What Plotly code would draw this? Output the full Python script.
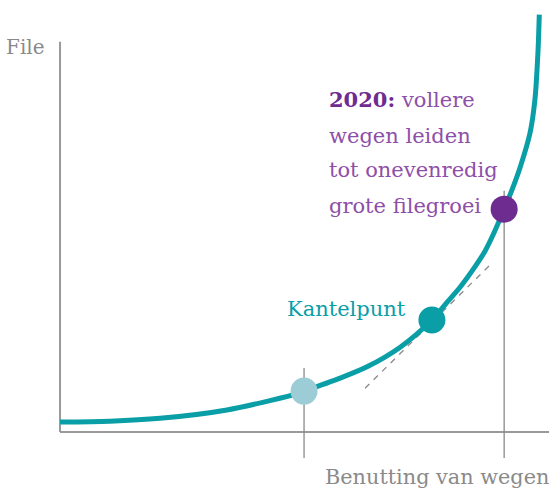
import plotly.graph_objects as go

# Curve: traffic jams (File) vs road usage (Benutting van wegen)
usage = [0, 10.2, 20.5, 34.2, 47.7, 50.0, 57.4, 62.9, 69.7, 76.2, 79.5, 82.0, 85.0, 87.1, 88.9, 91.0,
         92.6, 94.3, 96.3, 97.3, 97.95, 98.2]
jams = [2.4, 2.6, 3.3, 5.3, 8.9, 9.8, 12.9, 15.6, 20.3, 26.8, 31.3, 34.7, 39.5, 43.3, 47.6, 53.3,
        57.9, 63.4, 71.5, 79.4, 91.4, 99.8]

# Highlighted points
pt_x = [50.0, 76.2, 91.0]
pt_y = [9.8, 26.8, 53.3]
pt_colors = ["#9ccdd6", "#0a9ea7", "#6e2b90"]

# Tangent line at tipping point
tan_x = [62.5, 88.5]
tan_y = [10.5, 40.4]

# Guide lines (vertical) from points down past axis
guide_light_y = [15.3, -6.2]
guide_purple_y = [57.7, -6.2]

# Axes extents
yaxis_top = 93.3
xaxis_right = 100.2

TEAL = "#0a9ea7"
PURPLE_DARK = "#6e2b90"
PURPLE = "#8e4fa8"
GRAY = "#9a9a9a"
FONT = "DejaVu Serif"

fig = go.Figure()

# axes lines
fig.add_trace(go.Scatter(x=[0, 0], y=[yaxis_top, 0], mode="lines",
                         line=dict(color=GRAY, width=2), hoverinfo="skip"))
fig.add_trace(go.Scatter(x=[0, xaxis_right], y=[0, 0], mode="lines",
                         line=dict(color=GRAY, width=2), hoverinfo="skip"))
# guide lines
fig.add_trace(go.Scatter(x=[pt_x[0], pt_x[0]], y=guide_light_y, mode="lines",
                         line=dict(color="#8a8a8a", width=1.3), hoverinfo="skip"))
fig.add_trace(go.Scatter(x=[pt_x[2], pt_x[2]], y=guide_purple_y, mode="lines",
                         line=dict(color="#8a8a8a", width=1.3), hoverinfo="skip"))
# tangent
fig.add_trace(go.Scatter(x=tan_x, y=tan_y, mode="lines",
                         line=dict(color="#8a8a8a", width=1.3, dash="6px,6px"), hoverinfo="skip"))
# curve
fig.add_trace(go.Scatter(x=usage, y=jams, mode="lines", line_shape="spline",
                         line=dict(color=TEAL, width=5, smoothing=0.8), hoverinfo="skip"))
# points
fig.add_trace(go.Scatter(x=pt_x, y=pt_y, mode="markers",
                         marker=dict(color=pt_colors, size=27, line=dict(width=0)),
                         hoverinfo="skip"))

ann = []
ann.append(dict(x=-2.6, y=92, text="File", xanchor="right", yanchor="middle",
                font=dict(family=FONT, size=20, color="#8a8a8a")))
ann.append(dict(x=100.6, y=-10.8, text="Benutting van wegen", xanchor="right", yanchor="middle",
                font=dict(family=FONT, size=20.8, color="#8a8a8a")))
ann.append(dict(x=71.3, y=29.4, text="Kantelpunt", xanchor="right", yanchor="middle",
                font=dict(family=FONT, size=21, color=TEAL)))
lines = [f"<b><span style='color:{PURPLE_DARK}'>2020:</span></b> vollere",
         "wegen leiden", "tot onevenredig", "grote filegroei"]
line_y = [79.4, 70.8, 62.7, 54.1]
for t, yy in zip(lines, line_y):
    ann.append(dict(x=54.7, y=yy, text=t, xanchor="left", yanchor="middle",
                    font=dict(family=FONT, size=21, color=PURPLE)))
for a in ann:
    a.update(showarrow=False, xref="x", yref="y")

fig.update_layout(
    width=551, height=489,
    margin=dict(l=0, r=0, t=0, b=0),
    paper_bgcolor="white", plot_bgcolor="white",
    showlegend=False,
    xaxis=dict(range=[-12.3, 100.6], visible=False, fixedrange=True),
    yaxis=dict(range=[-13.6, 103.3], visible=False, fixedrange=True),
    annotations=ann,
)

fig.write_html("out.html", config={"displayModeBar": False},
               post_script="document.body.style.margin='0';document.body.style.overflow='hidden';")
